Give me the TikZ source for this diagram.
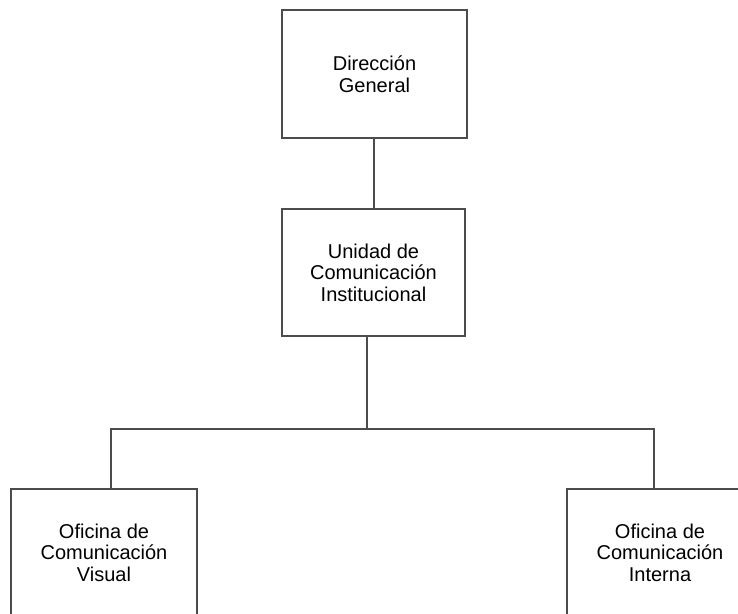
\documentclass[tikz,border=0pt]{standalone}
\usepackage{fontspec}
\setmainfont{Liberation Sans}
\usepackage{tikz}

\begin{document}
\begin{tikzpicture}[x=0.5pt, y=-0.5pt,
	caja/.style={draw=black!70, line width=1pt, fill=white, align=center, inner sep=0pt, minimum width=92.5pt, minimum height=63.5pt, font=\fontsize{10}{10.8}\selectfont},
	linea/.style={draw=black!70, line width=1pt}]

\useasboundingbox (0,0) rectangle (738,614);

\node[caja, minimum height=64pt] (dir) at (374.5, 74) {Direcci\'on\\General};
\node[caja, minimum width=91.5pt] (uci) at (373.5, 272.5) {Unidad de\\Comunicaci\'on\\Institucional};
\node[caja, minimum width=93pt] (ocv) at (104, 552.5) {Oficina de\\Comunicaci\'on\\Visual};
\node[caja, minimum width=93pt] (oci) at (660, 552.5) {Oficina de\\Comunicaci\'on\\Interna};

\coordinate (jm) at (367, 429);
\coordinate (jl) at (111, 429);
\coordinate (jr) at (654, 429);

\draw[linea] (dir.south -| uci.north) -- (uci.north);
\draw[linea] (jm |- uci.south) -- (jm);
\draw[linea] (jl |- ocv.north) -- (jl) -- (jr) -- (jr |- oci.north);

\end{tikzpicture}
\end{document}
